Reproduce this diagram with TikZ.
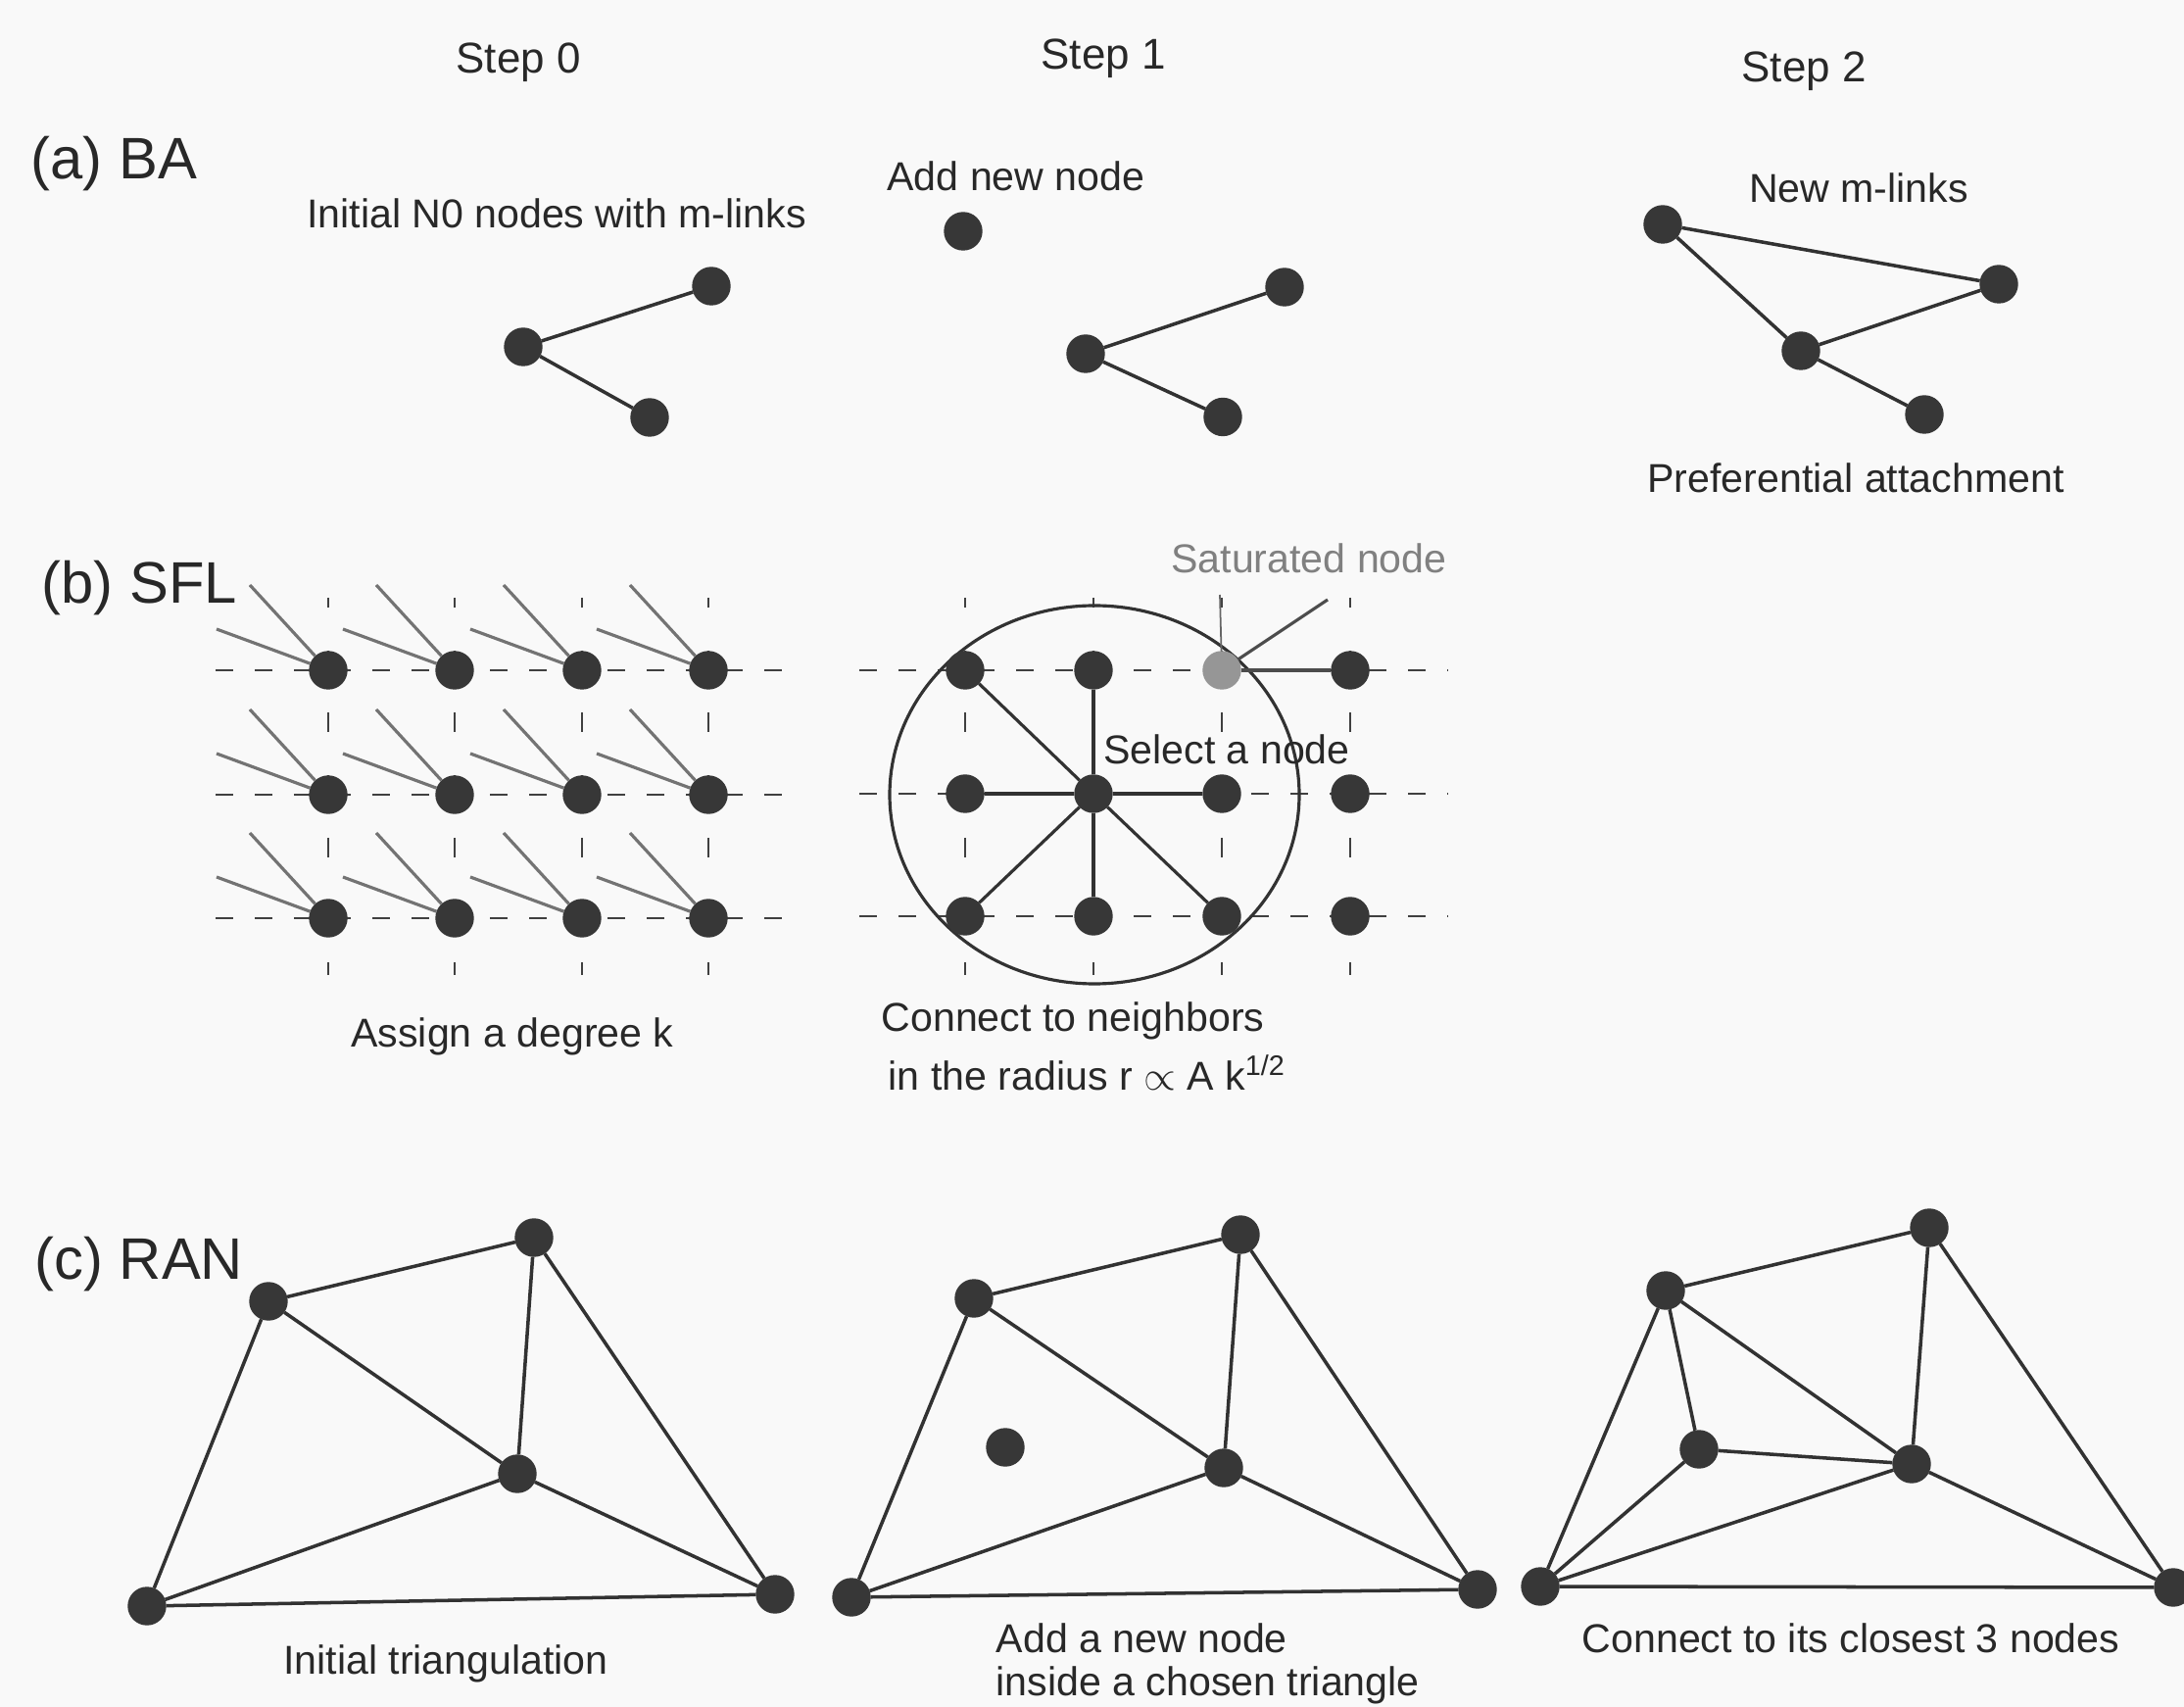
\documentclass[tikz,border=0pt]{standalone}
\usepackage{fontspec}
\setmainfont{Liberation Sans}
\definecolor{bgc}{RGB}{249,249,249}
\definecolor{nodecol}{RGB}{55,55,55}
\definecolor{edgecol}{RGB}{50,50,50}
\definecolor{txt}{RGB}{40,40,40}
\definecolor{satcol}{RGB}{150,150,150}
\tikzset{
  dot/.style={circle, fill=nodecol, draw=nodecol, line width=0.4pt, inner sep=0pt, minimum size=0.38cm},
  satdot/.style={dot, fill=satcol, draw=satcol},
  edge/.style={draw=edgecol, line width=1pt},
  grayedge/.style={draw=black!55, line width=0.9pt},
  thinedge/.style={draw=black!60, line width=0.5pt},
  hgrid/.style={draw=black!75, line width=0.8pt, dash pattern=on 0.18cm off 0.22cm},
  vgrid/.style={draw=black!75, line width=0.8pt, dash pattern=on 0.2cm off 0.4375cm, dash phase=0.1cm},
  lbl/.style={text=txt, font=\fontsize{11.7}{14}\selectfont, inner sep=0pt},
  head/.style={text=txt, font=\fontsize{12.5}{15}\selectfont, inner sep=0pt},
  panel/.style={text=txt, font=\fontsize{17}{20}\selectfont, inner sep=0pt, anchor=west},
}
\begin{document}
\begin{tikzpicture}
\fill[bgc] (0,0) rectangle (22.29,-17.42);
\useasboundingbox (0,0) rectangle (22.29,-17.42);

% ---------- headings ----------
\node[head] (h0) at (5.29,-0.64) {Step 0};
\node[head] (h1) at (11.26,-0.60) {Step 1};
\node[head] (h2) at (18.41,-0.73) {Step 2};

\node[panel] (pa) at (0.31,-1.67) {(a) BA};
\node[panel] (pb) at (0.42,-6.00) {(b) SFL};
\node[panel] (pc) at (0.35,-12.90) {(c) RAN};

% ---------- (a) BA ----------
\node[lbl] (ta0) at (5.68,-2.18) {Initial N0 nodes with m-links};
\node[lbl] (ta1) at (10.37,-1.80) {Add new node};
\node[lbl] (ta2) at (18.97,-1.92) {New m-links};
\node[lbl] (ta3) at (18.94,-4.88) {Preferential attachment};

\node[dot] (a0h) at (5.34,-3.54) {};
\node[dot] (a0u) at (7.26,-2.92) {};
\node[dot] (a0l) at (6.63,-4.26) {};
\draw[edge] (a0h) -- (a0u);
\draw[edge] (a0h) -- (a0l);

\node[dot] (a1n) at (9.83,-2.36) {};
\node[dot] (a1h) at (11.08,-3.61) {};
\node[dot] (a1u) at (13.11,-2.93) {};
\node[dot] (a1l) at (12.48,-4.255) {};
\draw[edge] (a1h) -- (a1u);
\draw[edge] (a1h) -- (a1l);

\node[dot] (a2t) at (16.97,-2.29) {};
\node[dot] (a2r) at (20.40,-2.90) {};
\node[dot] (a2h) at (18.38,-3.58) {};
\node[dot] (a2l) at (19.64,-4.23) {};
\draw[edge] (a2t) -- (a2r);
\draw[edge] (a2t) -- (a2h);
\draw[edge] (a2h) -- (a2r);
\draw[edge] (a2h) -- (a2l);

% ---------- (b) SFL, step 0 ----------
\foreach \x in {3.35,4.64,5.94,7.23} { \draw[vgrid] (\x,-6.10) -- (\x,-9.95); }
\foreach \y in {-6.84,-8.11,-9.37} { \draw[hgrid] (2.20,\y) -- (8.17,\y); }
\foreach \i/\x in {1/3.35,2/4.64,3/5.94,4/7.23} {
  \foreach \j/\y in {1/-6.84,2/-8.11,3/-9.37} {
    \node[dot] (L\i\j) at (\x,\y) {};
    \draw[grayedge] (L\i\j) -- ++(-0.80,0.87);
    \draw[grayedge] (L\i\j) -- ++(-1.14,0.42);
  }
}
\node[lbl] (tb0) at (5.23,-10.58) {Assign a degree k};

% ---------- (b) SFL, step 1 ----------
\foreach \x in {9.85,11.16,12.47,13.78} { \draw[vgrid] (\x,-6.10) -- (\x,-9.95); }
\foreach \y in {-6.84,-8.10,-9.35} { \draw[hgrid] (8.77,\y) -- (14.78,\y); }
\coordinate (Mc) at (11.17,-8.11);
\draw[edge, line width=0.9pt] (Mc) ellipse [x radius=2.09, y radius=1.93];

\node[dot] (M11) at (9.85,-6.84) {};
\node[dot] (M21) at (11.16,-6.84) {};
\node[satdot] (M31) at (12.47,-6.84) {};
\node[dot] (M41) at (13.78,-6.84) {};
\node[dot] (M12) at (9.85,-8.10) {};
\node[dot] (M22) at (11.16,-8.10) {};
\node[dot] (M32) at (12.47,-8.10) {};
\node[dot] (M42) at (13.78,-8.10) {};
\node[dot] (M13) at (9.85,-9.35) {};
\node[dot] (M23) at (11.16,-9.35) {};
\node[dot] (M33) at (12.47,-9.35) {};
\node[dot] (M43) at (13.78,-9.35) {};

\foreach \n in {M11,M21,M12,M32,M13,M23,M33} { \draw[edge, line width=0.9pt] (M22) -- (\n); }
\coordinate (satend) at (13.55,-6.12);
\coordinate (sattop) at (12.45,-6.07);
\draw[grayedge, draw=black!70] (M31) -- (satend);
\draw[grayedge, draw=black!70] (M31) -- (M41);
\draw[thinedge] (M31) -- (sattop);

\node[lbl, text=black!50] (tsat) at (13.36,-5.70) {Saturated node};
\node[lbl] (tsel) at (12.52,-7.65) {Select a node};
\node[lbl, anchor=west] (tb1) at (8.99,-10.42) {Connect to neighbors};
\node[lbl, anchor=west] (tb2) at (9.06,-10.95) {in the radius r $\propto$ A k\textsuperscript{1/2}};

% ---------- (c) RAN, step 0 ----------
\node[dot] (c0A) at (2.74,-13.28) {};
\node[dot] (c0B) at (5.45,-12.63) {};
\node[dot] (c0C) at (5.28,-15.04) {};
\node[dot] (c0D) at (1.50,-16.39) {};
\node[dot] (c0E) at (7.91,-16.27) {};
\foreach \a/\b in {A/B,A/C,B/C,A/D,B/E,C/D,C/E,D/E} { \draw[edge] (c0\a) -- (c0\b); }
\node[lbl] (tc0) at (4.55,-16.98) {Initial triangulation};

% ---------- (c) RAN, step 1 ----------
\node[dot] (c1A) at (9.94,-13.25) {};
\node[dot] (c1B) at (12.66,-12.60) {};
\node[dot] (c1C) at (12.49,-14.98) {};
\node[dot] (c1D) at (8.69,-16.30) {};
\node[dot] (c1E) at (15.08,-16.22) {};
\node[dot] (c1N) at (10.26,-14.77) {};
\foreach \a/\b in {A/B,A/C,B/C,A/D,B/E,C/D,C/E,D/E} { \draw[edge] (c1\a) -- (c1\b); }
\node[lbl, anchor=west] (tc1) at (10.16,-16.72) {Add a new node};
\node[lbl, anchor=west] (tc2) at (10.16,-17.20) {inside a chosen triangle};

% ---------- (c) RAN, step 2 ----------
\node[dot] (c2A) at (17.00,-13.17) {};
\node[dot] (c2B) at (19.69,-12.53) {};
\node[dot] (c2C) at (19.51,-14.94) {};
\node[dot] (c2D) at (15.72,-16.19) {};
\node[dot] (c2E) at (22.18,-16.20) {};
\node[dot] (c2N) at (17.34,-14.79) {};
\foreach \a/\b in {A/B,A/C,B/C,A/D,B/E,C/D,C/E,D/E,N/A,N/C,N/D} { \draw[edge] (c2\a) -- (c2\b); }
\node[lbl] (tc3) at (18.89,-16.72) {Connect to its closest 3 nodes};
\end{tikzpicture}
\end{document}
